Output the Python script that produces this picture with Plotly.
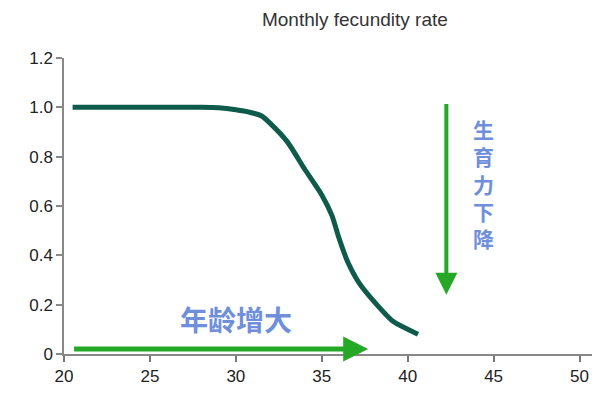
import plotly.graph_objects as go

# Data
ages = [20.5, 22, 24, 26, 28, 29, 30, 30.8, 31.5, 32, 33, 34, 35, 35.6, 36, 36.5, 37.2, 38.2, 39.1, 40.0, 40.6]
fecundity = [1.0, 1.0, 1.0, 1.0, 1.0, 0.998, 0.99, 0.98, 0.965, 0.935, 0.86, 0.75, 0.645, 0.56, 0.47, 0.375, 0.285, 0.2, 0.135, 0.1, 0.08]

x_ticks = [20, 25, 30, 35, 40, 45, 50]
y_ticks = [0, 0.2, 0.4, 0.6, 0.8, 1.0, 1.2]
y_tick_text = ["0", "0.2", "0.4", "0.6", "0.8", "1.0", "1.2"]

title_text = "Monthly fecundity rate"
age_label = "年龄增大"
decline_chars = ["生", "育", "力", "下", "降"]

fig = go.Figure()
fig.add_trace(go.Scatter(
    x=ages, y=fecundity, mode="lines",
    line=dict(color="#0e5a4b", width=5, shape="spline", smoothing=0.6),
    showlegend=False, hoverinfo="skip"))

arrow_green = "#25a825"
label_blue = "#6f8fdb"
annotations = [
    dict(x=37.7, y=0.02, ax=20.5, ay=0.02, xref="x", yref="y", axref="x", ayref="y",
         showarrow=True, arrowhead=2, arrowsize=1.0, arrowwidth=5, arrowcolor=arrow_green, text=""),
    dict(x=42.25, y=0.24, ax=42.25, ay=1.02, xref="x", yref="y", axref="x", ayref="y",
         showarrow=True, arrowhead=2, arrowsize=1.1, arrowwidth=4, arrowcolor=arrow_green, text=""),
    dict(x=30.0, y=0.14, xref="x", yref="y", text="<b>" + age_label + "</b>", showarrow=False,
         font=dict(family="Noto Sans CJK SC", size=28, color=label_blue), xanchor="center", yanchor="middle"),
    dict(x=44.4, y=0.69, xref="x", yref="y", text="<b>" + "<br>".join(decline_chars) + "</b>",
         showarrow=False, align="center",
         font=dict(family="Noto Sans CJK SC", size=21, color=label_blue),
         xanchor="center", yanchor="middle"),
]

fig.update_layout(
    width=592, height=392,
    margin=dict(l=56, r=5, t=50, b=46),
    paper_bgcolor="white", plot_bgcolor="white",
    title=dict(text=title_text, x=0.586, y=0.972, xanchor="center", yanchor="middle",
               xref="container", yref="container",
               font=dict(family="Liberation Sans, Arial", size=19, color="#333333")),
    annotations=annotations,
    font=dict(family="Liberation Sans, Arial", size=17, color="#222222"),
)
fig.update_xaxes(range=[20, 50.9], tickvals=x_ticks, showgrid=False, zeroline=False,
                 showline=True, linecolor="#888888", linewidth=1.5,
                 ticks="outside", ticklen=6, tickcolor="#777777", tickwidth=2)
fig.update_yaxes(range=[0, 1.2], tickvals=y_ticks, ticktext=y_tick_text, showgrid=False, zeroline=False,
                 showline=True, linecolor="#888888", linewidth=1.5,
                 ticks="outside", ticklen=6, tickcolor="#888888", tickwidth=1.5)

fig.write_html("out.html")
